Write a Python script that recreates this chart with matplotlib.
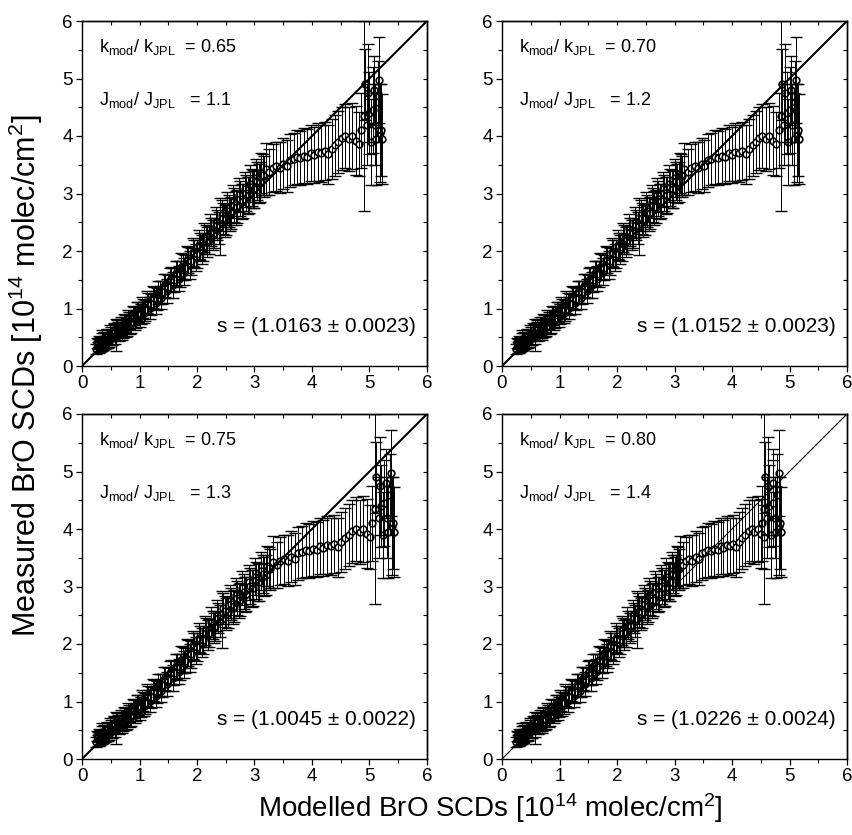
import matplotlib
matplotlib.use("Agg")
import matplotlib.pyplot as plt
from matplotlib.ticker import MultipleLocator

plt.rcParams['font.family'] = ['Liberation Sans', 'DejaVu Sans']
plt.rcParams['mathtext.fontset'] = 'custom'
plt.rcParams['mathtext.rm'] = 'Liberation Sans'
plt.rcParams['mathtext.it'] = 'Liberation Sans:italic'

# measured BrO SCDs (same in all panels) and their errors
measured = [0.30, 0.38, 0.33, 0.41, 0.36, 0.44, 0.39, 0.47, 0.42, 0.50,
            0.45, 0.56, 0.50, 0.60, 0.54, 0.64, 0.59, 0.68, 0.63, 0.73,
            0.68, 0.79, 0.74, 0.87, 0.82, 0.94, 0.90, 1.00, 0.97, 1.09,
            1.07, 1.19, 1.17, 1.29, 1.28, 1.40, 1.38, 1.51, 1.49, 1.62,
            1.60, 1.73, 1.71, 1.84, 1.82, 1.96, 1.95, 2.08, 2.07, 2.20,
            2.19, 2.33, 2.31, 2.45, 2.43, 2.57, 2.55, 2.69, 2.66, 2.80,
            2.77, 2.91, 2.87, 3.01, 2.97, 3.11, 3.07, 3.22, 3.20, 3.33,
            3.42, 3.38, 3.44, 3.47, 3.45, 3.52, 3.48, 3.58, 3.60, 3.63,
            3.62, 3.66, 3.64, 3.70, 3.67, 3.72, 3.70, 3.74, 3.68, 3.78,
            3.84, 3.90, 3.96, 4.00, 3.95, 4.00, 3.92, 3.86,
            4.10, 4.35, 4.90, 4.20, 4.75, 4.40, 3.90, 4.45, 4.80, 4.20,
            3.95, 4.60, 4.98, 4.05, 4.10, 3.95]
measured_err = [0.09, 0.09, 0.10, 0.10, 0.10, 0.18, 0.11, 0.11, 0.11, 0.12,
                0.12, 0.12, 0.13, 0.13, 0.28, 0.13, 0.14, 0.14, 0.14, 0.15,
                0.15, 0.15, 0.16, 0.16, 0.16, 0.17, 0.17, 0.17, 0.18, 0.18,
                0.18, 0.19, 0.19, 0.19, 0.20, 0.20, 0.20, 0.21, 0.21, 0.21,
                0.22, 0.22, 0.22, 0.23, 0.23, 0.23, 0.24, 0.24, 0.24, 0.25,
                0.25, 0.25, 0.26, 0.26, 0.50, 0.27, 0.27, 0.28, 0.28, 0.29,
                0.29, 0.30, 0.30, 0.31, 0.31, 0.32, 0.32, 0.33, 0.34, 0.35,
                0.45, 0.40, 0.42, 0.43, 0.44, 0.45, 0.45, 0.46, 0.46, 0.47,
                0.47, 0.48, 0.48, 0.49, 0.49, 0.50, 0.50, 0.51, 0.52, 0.52,
                0.53, 0.54, 0.55, 0.56, 0.56, 0.58, 0.60, 0.55,
                0.65, 1.65, 0.62, 0.70, 0.85, 0.72, 0.75, 0.75, 0.60, 0.70,
                0.80, 0.70, 0.75, 0.85, 0.80, 0.78]

# second measurement sequence (low SCD range only)
measured_b = [0.40, 0.32, 0.43, 0.35, 0.46, 0.38, 0.49, 0.41, 0.53, 0.44,
              0.58, 0.49, 0.62, 0.53, 0.66, 0.57, 0.70, 0.61, 0.75, 0.66,
              0.81, 0.72, 0.88, 0.79, 0.95, 0.86, 1.02, 0.93, 1.11, 1.01,
              1.20, 1.10, 1.28, 1.19, 1.39, 1.30, 1.50, 1.41, 1.61, 1.52,
              1.73, 1.64, 1.85, 1.76, 1.98, 1.89, 2.11, 2.02, 2.24, 2.15,
              2.38, 2.28, 2.50, 2.40, 2.62, 2.52, 2.74, 2.64, 2.86, 2.75,
              2.97, 2.86, 3.07, 2.97, 3.17, 3.08, 3.27, 3.18, 3.36, 3.30]
measured_b_err = [0.09, 0.10, 0.10, 0.10, 0.11, 0.11, 0.11, 0.12, 0.12, 0.12,
                  0.13, 0.13, 0.13, 0.14, 0.14, 0.14, 0.15, 0.15, 0.15, 0.16,
                  0.16, 0.16, 0.17, 0.17, 0.17, 0.18, 0.18, 0.18, 0.19, 0.19,
                  0.19, 0.20, 0.20, 0.20, 0.21, 0.21, 0.21, 0.22, 0.22, 0.22,
                  0.23, 0.23, 0.23, 0.24, 0.24, 0.24, 0.25, 0.25, 0.25, 0.26,
                  0.26, 0.26, 0.27, 0.27, 0.27, 0.28, 0.28, 0.29, 0.29, 0.30,
                  0.30, 0.31, 0.31, 0.32, 0.32, 0.33, 0.33, 0.34, 0.35, 0.36]

# modelled SCDs for each model run
model_065 = [0.25, 0.27, 0.29, 0.31, 0.33, 0.35, 0.37, 0.39, 0.41, 0.44,
             0.47, 0.50, 0.53, 0.56, 0.59, 0.62, 0.65, 0.68, 0.71, 0.74,
             0.78, 0.82, 0.86, 0.90, 0.94, 0.98, 1.02, 1.06, 1.10, 1.15,
             1.20, 1.25, 1.30, 1.35, 1.40, 1.45, 1.50, 1.55, 1.60, 1.65,
             1.70, 1.75, 1.80, 1.85, 1.90, 1.95, 2.00, 2.05, 2.10, 2.15,
             2.20, 2.25, 2.30, 2.35, 2.40, 2.45, 2.50, 2.55, 2.60, 2.65,
             2.70, 2.75, 2.80, 2.85, 2.90, 2.95, 3.00, 3.05, 3.10, 3.14,
             3.20, 3.26, 3.32, 3.38, 3.44, 3.50, 3.56, 3.62, 3.68, 3.74,
             3.80, 3.86, 3.92, 3.98, 4.04, 4.10, 4.16, 4.22, 4.28, 4.34,
             4.40, 4.46, 4.52, 4.58, 4.64, 4.70, 4.76, 4.82,
             4.86, 4.90, 4.92, 4.96, 4.98, 5.00, 5.03, 5.06, 5.08, 5.10,
             5.12, 5.15, 5.17, 5.18, 5.20, 5.21]
model_070 = [0.25, 0.27, 0.29, 0.31, 0.33, 0.35, 0.37, 0.39, 0.41, 0.44,
             0.47, 0.50, 0.52, 0.55, 0.58, 0.61, 0.64, 0.67, 0.70, 0.73,
             0.77, 0.81, 0.85, 0.89, 0.93, 0.97, 1.01, 1.05, 1.09, 1.14,
             1.19, 1.24, 1.29, 1.34, 1.39, 1.44, 1.49, 1.53, 1.58, 1.63,
             1.68, 1.73, 1.78, 1.83, 1.88, 1.93, 1.98, 2.03, 2.08, 2.13,
             2.18, 2.23, 2.28, 2.33, 2.38, 2.43, 2.48, 2.52, 2.57, 2.62,
             2.67, 2.72, 2.77, 2.82, 2.87, 2.92, 2.97, 3.02, 3.07, 3.11,
             3.17, 3.23, 3.29, 3.35, 3.41, 3.47, 3.52, 3.58, 3.64, 3.70,
             3.76, 3.82, 3.88, 3.94, 4.00, 4.06, 4.12, 4.18, 4.24, 4.30,
             4.36, 4.42, 4.47, 4.53, 4.59, 4.65, 4.71, 4.77,
             4.81, 4.85, 4.87, 4.91, 4.93, 4.95, 4.98, 5.01, 5.03, 5.05,
             5.07, 5.10, 5.12, 5.13, 5.15, 5.16]
model_075 = [0.25, 0.27, 0.29, 0.31, 0.33, 0.35, 0.37, 0.39, 0.41, 0.44,
             0.47, 0.50, 0.53, 0.56, 0.59, 0.62, 0.65, 0.68, 0.71, 0.74,
             0.78, 0.82, 0.86, 0.90, 0.94, 0.98, 1.02, 1.06, 1.10, 1.15,
             1.20, 1.25, 1.30, 1.35, 1.40, 1.45, 1.50, 1.55, 1.60, 1.65,
             1.70, 1.75, 1.80, 1.85, 1.90, 1.95, 2.00, 2.05, 2.11, 2.16,
             2.21, 2.27, 2.32, 2.37, 2.43, 2.48, 2.54, 2.59, 2.64, 2.70,
             2.75, 2.81, 2.86, 2.92, 2.97, 3.03, 3.08, 3.14, 3.20, 3.25,
             3.33, 3.39, 3.45, 3.52, 3.58, 3.64, 3.70, 3.76, 3.83, 3.89,
             3.95, 4.01, 4.08, 4.14, 4.20, 4.26, 4.33, 4.39, 4.45, 4.51,
             4.58, 4.64, 4.70, 4.76, 4.83, 4.89, 4.95, 5.01,
             5.05, 5.10, 5.12, 5.16, 5.18, 5.20, 5.23, 5.26, 5.28, 5.30,
             5.32, 5.36, 5.38, 5.39, 5.41, 5.42]
model_080 = [0.25, 0.27, 0.29, 0.31, 0.33, 0.35, 0.37, 0.39, 0.40, 0.43,
             0.46, 0.49, 0.52, 0.55, 0.58, 0.61, 0.64, 0.67, 0.70, 0.72,
             0.76, 0.80, 0.84, 0.88, 0.92, 0.96, 0.99, 1.03, 1.07, 1.12,
             1.17, 1.22, 1.27, 1.32, 1.37, 1.41, 1.46, 1.51, 1.56, 1.61,
             1.66, 1.71, 1.76, 1.80, 1.85, 1.90, 1.95, 2.00, 2.05, 2.10,
             2.15, 2.19, 2.24, 2.29, 2.34, 2.39, 2.44, 2.49, 2.54, 2.58,
             2.63, 2.68, 2.73, 2.78, 2.83, 2.88, 2.93, 2.97, 3.02, 3.06,
             3.10, 3.15, 3.20, 3.26, 3.31, 3.37, 3.42, 3.48, 3.53, 3.58,
             3.64, 3.69, 3.75, 3.80, 3.85, 3.91, 3.96, 4.02, 4.07, 4.12,
             4.18, 4.23, 4.29, 4.34, 4.39, 4.45, 4.50, 4.55,
             4.52, 4.56, 4.58, 4.61, 4.63, 4.65, 4.68, 4.71, 4.72, 4.74,
             4.76, 4.79, 4.81, 4.82, 4.84, 4.85]

model_065_b = [0.26, 0.28, 0.30, 0.32, 0.34, 0.36, 0.38, 0.40, 0.43, 0.46,
               0.49, 0.52, 0.55, 0.58, 0.61, 0.64, 0.67, 0.70, 0.73, 0.76,
               0.80, 0.84, 0.88, 0.92, 0.96, 1.00, 1.04, 1.08, 1.13, 1.18,
               1.23, 1.28, 1.33, 1.38, 1.43, 1.48, 1.53, 1.58, 1.63, 1.68,
               1.73, 1.78, 1.83, 1.88, 1.93, 1.98, 2.03, 2.08, 2.13, 2.18,
               2.23, 2.28, 2.33, 2.38, 2.43, 2.48, 2.53, 2.58, 2.63, 2.68,
               2.73, 2.78, 2.83, 2.88, 2.93, 2.98, 3.03, 3.08, 3.12, 3.16]
model_070_b = [0.26, 0.28, 0.30, 0.32, 0.34, 0.36, 0.38, 0.40, 0.43, 0.46,
               0.49, 0.51, 0.54, 0.57, 0.60, 0.63, 0.66, 0.69, 0.72, 0.75,
               0.79, 0.83, 0.87, 0.91, 0.95, 0.99, 1.03, 1.07, 1.12, 1.17,
               1.22, 1.27, 1.32, 1.37, 1.42, 1.47, 1.51, 1.56, 1.61, 1.66,
               1.71, 1.76, 1.81, 1.86, 1.91, 1.96, 2.01, 2.06, 2.11, 2.16,
               2.21, 2.26, 2.31, 2.36, 2.41, 2.46, 2.50, 2.55, 2.60, 2.65,
               2.70, 2.75, 2.80, 2.85, 2.90, 2.95, 3.00, 3.05, 3.09, 3.13]
model_075_b = [0.26, 0.28, 0.30, 0.32, 0.34, 0.36, 0.38, 0.40, 0.43, 0.46,
               0.49, 0.52, 0.55, 0.58, 0.61, 0.64, 0.67, 0.70, 0.73, 0.76,
               0.80, 0.84, 0.88, 0.92, 0.96, 1.00, 1.04, 1.08, 1.13, 1.18,
               1.23, 1.28, 1.33, 1.38, 1.43, 1.48, 1.53, 1.58, 1.63, 1.68,
               1.73, 1.78, 1.83, 1.88, 1.93, 1.98, 2.03, 2.08, 2.14, 2.19,
               2.24, 2.30, 2.35, 2.40, 2.46, 2.51, 2.57, 2.62, 2.68, 2.73,
               2.79, 2.84, 2.90, 2.95, 3.01, 3.06, 3.12, 3.17, 3.22, 3.27]
model_080_b = [0.26, 0.28, 0.30, 0.32, 0.34, 0.36, 0.38, 0.39, 0.42, 0.45,
               0.48, 0.51, 0.54, 0.57, 0.60, 0.63, 0.66, 0.69, 0.72, 0.74,
               0.78, 0.82, 0.86, 0.90, 0.94, 0.98, 1.01, 1.05, 1.10, 1.15,
               1.20, 1.25, 1.30, 1.35, 1.39, 1.44, 1.49, 1.54, 1.59, 1.64,
               1.69, 1.74, 1.78, 1.83, 1.88, 1.93, 1.98, 2.03, 2.08, 2.13,
               2.17, 2.22, 2.27, 2.32, 2.37, 2.42, 2.47, 2.52, 2.56, 2.61,
               2.66, 2.71, 2.76, 2.81, 2.86, 2.91, 2.95, 3.00, 3.04, 3.08]

k_ratio = ["0.65", "0.70", "0.75", "0.80"]
j_ratio = ["1.1", "1.2", "1.3", "1.4"]
slopes = ["(1.0163 \u00b1 0.0023)", "(1.0152 \u00b1 0.0023)",
          "(1.0045 \u00b1 0.0022)", "(1.0226 \u00b1 0.0024)"]
models = [model_065, model_070, model_075, model_080]
models_b = [model_065_b, model_070_b, model_075_b, model_080_b]

W, H = 852, 835
fig = plt.figure(figsize=(W / 100, H / 100), dpi=100)

# axes boxes in pixels: left, top
boxes = [(82, 21), (502, 21), (82, 414), (502, 414)]
size = 345
one2one_lw = [1.5, 1.5, 1.5, 0.8]

for i, (left, top) in enumerate(boxes):
    ax = fig.add_axes([left / W, 1 - (top + size) / H, size / W, size / H])
    xs = models_b[i] + models[i]
    ys = measured_b + measured
    es = measured_b_err + measured_err
    # open symbols first, error bars drawn over them
    ax.plot(xs, ys, 'o', ms=4.8, mfc='white', mec='black', mew=1.2, zorder=2)
    ax.errorbar(xs, ys, yerr=es, fmt='none', ecolor='black', elinewidth=0.7,
                capsize=4.0, capthick=1.0, zorder=2.5)
    ax.plot([0, 6], [0, 6], color='black', lw=one2one_lw[i], zorder=3)
    ax.set_xlim(0, 6)
    ax.set_ylim(0, 6)
    for ax_ in (ax.xaxis, ax.yaxis):
        ax_.set_major_locator(MultipleLocator(1))
        ax_.set_minor_locator(MultipleLocator(0.5))
    ax.tick_params(which='major', direction='out', length=4.5, width=0.9,
                   labelsize=13.5, pad=2)
    ax.tick_params(which='minor', direction='out', length=3, width=0.8)
    for s in ax.spines.values():
        s.set_linewidth(1.0)

    # inward ticks on top and right
    top_ax = ax.secondary_xaxis('top')
    right_ax = ax.secondary_yaxis('right')
    for sec, axis in ((top_ax, top_ax.xaxis), (right_ax, right_ax.yaxis)):
        axis.set_major_locator(MultipleLocator(1))
        axis.set_minor_locator(MultipleLocator(0.5))
        sec.tick_params(which='both', direction='in', length=3, width=0.8,
                        labeltop=False, labelright=False)
        for s in sec.spines.values():
            s.set_linewidth(1.0)

    ax.text(0.3, 5.55, r'k$_{\mathrm{mod}}$/ k$_{\mathrm{JPL}}$  = ' + k_ratio[i],
            fontsize=13, va='center', ha='left')
    ax.text(0.3, 4.62, r'J$_{\mathrm{mod}}$/ J$_{\mathrm{JPL}}$   = ' + j_ratio[i],
            fontsize=13, va='center', ha='left')
    ax.text(5.8, 0.68, 's = ' + slopes[i], fontsize=15, va='center', ha='right')

fig.text(0.576, 0.032, r'Modelled BrO SCDs [10$^{14}$ molec/cm$^{2}$]',
         fontsize=20, ha='center', va='center')
fig.text(0.030, 0.55, r'Measured BrO SCDs [10$^{14}$ molec/cm$^{2}$]',
         fontsize=22, ha='center', va='center', rotation=90)

fig.savefig('out.png', dpi=100)
